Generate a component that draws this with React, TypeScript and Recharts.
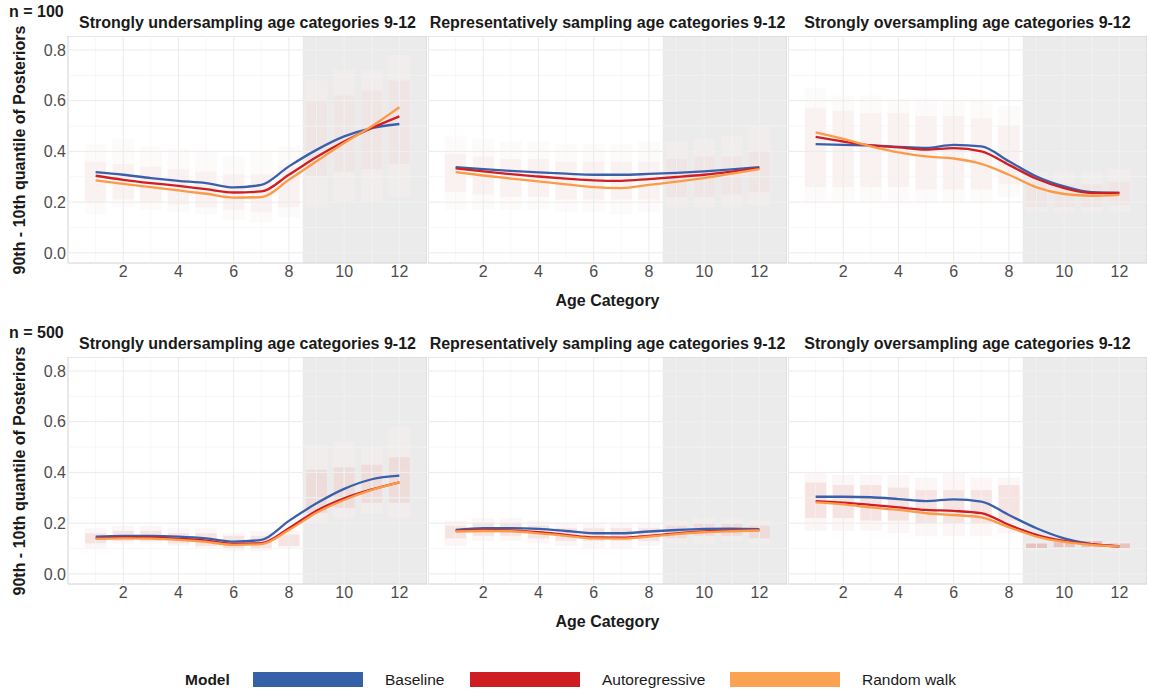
import React from 'react';
import { ComposedChart, Line, XAxis, YAxis, ReferenceArea, ReferenceLine } from 'recharts';

// ---------- categories / ticks ----------
const ageCategories = [1, 2, 3, 4, 5, 6, 7, 8, 9, 10, 11, 12];
const xTicks = [2, 4, 6, 8, 10, 12];
const xMinorGrid = [1, 3, 5, 7, 9, 11];
const yTicks = [0, 0.2, 0.4, 0.6, 0.8];
const yMinorGrid = [0.1, 0.3, 0.5, 0.7];
const modelNames = ['Baseline', 'Autoregressive', 'Random walk'];
const rowLabels = ['n = 100', 'n = 500'];
const panelTitles = [
  'Strongly undersampling age categories 9-12',
  'Representatively sampling age categories 9-12',
  'Strongly oversampling age categories 9-12',
];

// ---------- n = 100 smooth lines ----------
const n100UnderBaseline = [0.318, 0.308, 0.295, 0.284, 0.275, 0.258, 0.268, 0.341, 0.406, 0.459, 0.492, 0.508];
const n100UnderAutoreg = [0.304, 0.288, 0.275, 0.264, 0.251, 0.238, 0.242, 0.308, 0.378, 0.439, 0.492, 0.538];
const n100UnderRandomWalk = [0.286, 0.272, 0.259, 0.246, 0.233, 0.218, 0.220, 0.288, 0.361, 0.433, 0.499, 0.574];

const n100ReprBaseline = [0.338, 0.330, 0.323, 0.317, 0.312, 0.308, 0.308, 0.311, 0.315, 0.321, 0.329, 0.338];
const n100ReprAutoreg = [0.333, 0.321, 0.310, 0.301, 0.293, 0.286, 0.284, 0.291, 0.299, 0.308, 0.320, 0.334];
const n100ReprRandomWalk = [0.318, 0.305, 0.293, 0.282, 0.270, 0.259, 0.255, 0.268, 0.281, 0.295, 0.312, 0.330];

const n100OverBaseline = [0.429, 0.426, 0.424, 0.418, 0.414, 0.426, 0.420, 0.361, 0.301, 0.262, 0.239, 0.236];
const n100OverAutoreg = [0.457, 0.439, 0.424, 0.416, 0.407, 0.413, 0.400, 0.347, 0.292, 0.255, 0.236, 0.236];
const n100OverRandomWalk = [0.475, 0.449, 0.420, 0.396, 0.380, 0.372, 0.351, 0.308, 0.258, 0.232, 0.225, 0.229];

// ---------- n = 500 smooth lines ----------
const n500UnderBaseline = [0.147, 0.150, 0.150, 0.147, 0.140, 0.127, 0.134, 0.209, 0.278, 0.335, 0.373, 0.387];
const n500UnderAutoreg = [0.140, 0.144, 0.144, 0.138, 0.131, 0.118, 0.121, 0.180, 0.249, 0.298, 0.333, 0.361];
const n500UnderRandomWalk = [0.138, 0.140, 0.139, 0.134, 0.126, 0.114, 0.117, 0.173, 0.241, 0.291, 0.331, 0.361];

const n500ReprBaseline = [0.173, 0.180, 0.180, 0.177, 0.169, 0.160, 0.160, 0.167, 0.173, 0.177, 0.178, 0.176];
const n500ReprAutoreg = [0.169, 0.173, 0.171, 0.164, 0.154, 0.144, 0.143, 0.150, 0.160, 0.167, 0.171, 0.173];
const n500ReprRandomWalk = [0.167, 0.169, 0.168, 0.160, 0.150, 0.140, 0.139, 0.147, 0.157, 0.164, 0.168, 0.171];

const n500OverBaseline = [0.304, 0.304, 0.302, 0.295, 0.287, 0.294, 0.285, 0.232, 0.180, 0.140, 0.117, 0.108];
const n500OverAutoreg = [0.287, 0.281, 0.272, 0.262, 0.252, 0.248, 0.239, 0.193, 0.154, 0.130, 0.117, 0.108];
const n500OverRandomWalk = [0.282, 0.274, 0.262, 0.252, 0.239, 0.232, 0.223, 0.184, 0.147, 0.126, 0.114, 0.108];

// ---------- point-cloud spread per age category: [low, high] ----------
const n100UnderOuter = [[0.15, 0.43], [0.18, 0.45], [0.17, 0.42], [0.16, 0.41], [0.15, 0.40], [0.13, 0.38], [0.12, 0.40], [0.14, 0.42], [0.18, 0.68], [0.20, 0.72], [0.20, 0.72], [0.22, 0.78]];
const n100UnderInner = [[0.20, 0.36], [0.21, 0.35], [0.20, 0.34], [0.19, 0.33], [0.18, 0.32], [0.17, 0.31], [0.16, 0.31], [0.18, 0.34], [0.30, 0.60], [0.32, 0.62], [0.33, 0.64], [0.35, 0.68]];
const n100ReprOuter = [[0.17, 0.46], [0.17, 0.45], [0.17, 0.44], [0.17, 0.44], [0.16, 0.43], [0.16, 0.43], [0.15, 0.43], [0.16, 0.44], [0.18, 0.44], [0.18, 0.45], [0.18, 0.46], [0.19, 0.50]];
const n100ReprInner = [[0.24, 0.39], [0.23, 0.38], [0.22, 0.37], [0.22, 0.37], [0.21, 0.36], [0.21, 0.36], [0.21, 0.36], [0.21, 0.36], [0.22, 0.37], [0.22, 0.38], [0.23, 0.38], [0.24, 0.40]];
const n100OverOuter = [[0.20, 0.65], [0.20, 0.62], [0.20, 0.62], [0.20, 0.61], [0.20, 0.61], [0.20, 0.60], [0.20, 0.60], [0.22, 0.58], [0.16, 0.32], [0.16, 0.32], [0.16, 0.32], [0.16, 0.33]];
const n100OverInner = [[0.26, 0.57], [0.26, 0.56], [0.26, 0.55], [0.26, 0.55], [0.25, 0.54], [0.25, 0.54], [0.25, 0.53], [0.27, 0.50], [0.18, 0.28], [0.18, 0.27], [0.18, 0.27], [0.19, 0.28]];

const n500UnderOuter = [[0.10, 0.18], [0.12, 0.19], [0.12, 0.19], [0.11, 0.18], [0.10, 0.18], [0.09, 0.16], [0.09, 0.17], [0.10, 0.17], [0.20, 0.51], [0.22, 0.52], [0.24, 0.50], [0.22, 0.58]];
const n500UnderInner = [[0.12, 0.16], [0.13, 0.17], [0.13, 0.17], [0.12, 0.16], [0.11, 0.16], [0.10, 0.15], [0.10, 0.15], [0.11, 0.155], [0.24, 0.41], [0.26, 0.42], [0.28, 0.43], [0.28, 0.46]];
const n500ReprOuter = [[0.11, 0.21], [0.13, 0.22], [0.13, 0.22], [0.12, 0.21], [0.11, 0.20], [0.10, 0.20], [0.10, 0.20], [0.11, 0.20], [0.12, 0.21], [0.12, 0.22], [0.13, 0.22], [0.12, 0.21]];
const n500ReprInner = [[0.14, 0.19], [0.15, 0.20], [0.15, 0.20], [0.14, 0.19], [0.13, 0.18], [0.13, 0.18], [0.13, 0.18], [0.13, 0.18], [0.14, 0.19], [0.15, 0.20], [0.15, 0.20], [0.14, 0.19]];
const n500OverOuter = [[0.17, 0.40], [0.17, 0.39], [0.17, 0.39], [0.16, 0.39], [0.15, 0.38], [0.15, 0.40], [0.15, 0.38], [0.16, 0.38], [0.09, 0.13], [0.10, 0.13], [0.10, 0.14], [0.09, 0.13]];
const n500OverInner = [[0.22, 0.36], [0.22, 0.35], [0.21, 0.35], [0.21, 0.34], [0.20, 0.33], [0.20, 0.33], [0.20, 0.33], [0.21, 0.35], [0.10, 0.12], [0.105, 0.125], [0.105, 0.13], [0.10, 0.12]];

// ---------- styling ----------
const COLORS = ['#3a60ab', '#d01f24', '#fb9b48'];
const LEGEND_COLORS = ['#3561a9', '#cd1c22', '#fba352'];
const FONT = '"Liberation Sans", Arial, Helvetica, sans-serif';
const Y_DOMAIN: [number, number] = [-0.04, 0.855];
const X_DOMAIN: [number, number] = [0, 13];
const PLOT_LEFT = [68, 428, 788];
const PLOT_TOP = [36, 357];
const PW = 359;
const PH = 227;
const XH = 30;
const YW = 68;

type PanelSpec = {
  row: number;
  col: number;
  lines: number[][];
  outer: number[][];
  inner: number[][];
};

const panels: PanelSpec[] = [
  { row: 0, col: 0, lines: [n100UnderBaseline, n100UnderAutoreg, n100UnderRandomWalk], outer: n100UnderOuter, inner: n100UnderInner },
  { row: 0, col: 1, lines: [n100ReprBaseline, n100ReprAutoreg, n100ReprRandomWalk], outer: n100ReprOuter, inner: n100ReprInner },
  { row: 0, col: 2, lines: [n100OverBaseline, n100OverAutoreg, n100OverRandomWalk], outer: n100OverOuter, inner: n100OverInner },
  { row: 1, col: 0, lines: [n500UnderBaseline, n500UnderAutoreg, n500UnderRandomWalk], outer: n500UnderOuter, inner: n500UnderInner },
  { row: 1, col: 1, lines: [n500ReprBaseline, n500ReprAutoreg, n500ReprRandomWalk], outer: n500ReprOuter, inner: n500ReprInner },
  { row: 1, col: 2, lines: [n500OverBaseline, n500OverAutoreg, n500OverRandomWalk], outer: n500OverOuter, inner: n500OverInner },
];

const seriesKeys = ['baseline', 'autoregressive', 'randomWalk'];

function Panel({ spec }: { spec: PanelSpec }) {
  const { row, col, lines, outer, inner } = spec;
  const data = ageCategories.map((x, i) => ({
    x,
    baseline: lines[0][i],
    autoregressive: lines[1][i],
    randomWalk: lines[2][i],
  }));
  const yw = col === 0 ? YW : 0;
  const innerOpacity = row === 0 ? 0.06 : 0.13;
  const outerOpacity = row === 0 ? 0.035 : 0.06;
  return (
    <div style={{ position: 'absolute', left: PLOT_LEFT[col] - yw, top: PLOT_TOP[row] }}>
      <ComposedChart width={PW + yw} height={PH + XH} data={data} margin={{ top: 0, right: 0, bottom: 0, left: 0 }}>
        <XAxis
          type="number"
          dataKey="x"
          domain={X_DOMAIN}
          ticks={xTicks}
          interval={0}
          allowDataOverflow
          axisLine={false}
          tickLine={false}
          tickSize={0}
          tickMargin={3}
          height={XH}
          tick={{ fill: '#4d4d4d', fontSize: 16, fontFamily: FONT }}
        />
        <YAxis
          type="number"
          domain={Y_DOMAIN}
          ticks={yTicks}
          interval={0}
          allowDataOverflow
          hide={col !== 0}
          width={yw}
          axisLine={false}
          tickLine={false}
          tickSize={0}
          tickMargin={2}
          tickFormatter={(v: number) => v.toFixed(1)}
          tick={{ fill: '#4d4d4d', fontSize: 16, fontFamily: FONT }}
        />
        {xMinorGrid.map((v) => (
          <ReferenceLine key={'xm' + v} x={v} stroke="#f3f3f3" strokeWidth={0.7} />
        ))}
        {yMinorGrid.map((v) => (
          <ReferenceLine key={'ym' + v} y={v} stroke="#f3f3f3" strokeWidth={0.7} />
        ))}
        {xTicks.map((v) => (
          <ReferenceLine key={'xM' + v} x={v} stroke="#ebebeb" strokeWidth={1} />
        ))}
        {yTicks.map((v) => (
          <ReferenceLine key={'yM' + v} y={v} stroke="#ebebeb" strokeWidth={1} />
        ))}
        <ReferenceArea x1={8.5} x2={13} y1={Y_DOMAIN[0]} y2={Y_DOMAIN[1]} fill="#ebebeb" fillOpacity={1} stroke="none" />
        {[9, 10, 11, 12].map((v) => (
          <ReferenceLine key={'xg' + v} x={v} stroke="#f1f1f1" strokeWidth={v % 2 === 0 ? 1 : 0.7} />
        ))}
        {[...yTicks, ...yMinorGrid].map((v) => (
          <ReferenceLine
            key={'yg' + v}
            segment={[{ x: 8.5, y: v }, { x: 13, y: v }]}
            stroke="#f1f1f1"
            strokeWidth={0.8}
          />
        ))}
        {outer.map(([lo, hi], i) => (
          <ReferenceArea
            key={'o' + i}
            x1={ageCategories[i] - 0.4}
            x2={ageCategories[i] + 0.4}
            y1={lo}
            y2={hi}
            fill={ageCategories[i] > 8.5 ? '#f6eeee' : '#c86a6a'}
            fillOpacity={ageCategories[i] > 8.5 ? 0.6 : outerOpacity}
            stroke="none"
          />
        ))}
        {inner.map(([lo, hi], i) => (
          <ReferenceArea
            key={'i' + i}
            x1={ageCategories[i] - 0.38}
            x2={ageCategories[i] + 0.38}
            y1={lo}
            y2={hi}
            fill="#d06a60"
            fillOpacity={hi - lo < 0.035 ? 0.32 : innerOpacity}
            stroke="none"
          />
        ))}
        {seriesKeys.map((k, i) => (
          <Line
            key={k}
            dataKey={k}
            name={modelNames[i]}
            type="monotone"
            stroke={COLORS[i]}
            strokeWidth={2.3}
            dot={false}
            activeDot={false}
            isAnimationActive={false}
          />
        ))}
        <ReferenceArea
          x1={X_DOMAIN[0]}
          x2={X_DOMAIN[1]}
          y1={Y_DOMAIN[0]}
          y2={Y_DOMAIN[1]}
          fill="none"
          stroke="#d2d2d2"
          strokeWidth={1}
        />
      </ComposedChart>
    </div>
  );
}

const textBold: React.CSSProperties = { position: 'absolute', fontFamily: FONT, fontWeight: 700, color: '#1a1a1a', whiteSpace: 'nowrap' };

export default function App() {
  return (
    <div style={{ position: 'absolute', left: 0, top: 0, width: 1149, height: 693, background: '#fff', overflow: 'hidden' }}>
      {panels.map((p) => (
        <Panel key={p.row + '-' + p.col} spec={p} />
      ))}
      {rowLabels.map((lab, r) => (
        <div key={lab} style={{ ...textBold, left: 9, top: PLOT_TOP[r] - 34, fontSize: 16, lineHeight: '20px' }}>{lab}</div>
      ))}
      {[0, 1].map((r) =>
        panelTitles.map((t, c) => (
          <div
            key={r + t}
            style={{ ...textBold, left: PLOT_LEFT[c], width: PW, textAlign: 'center', top: PLOT_TOP[r] - 23, fontSize: 16, lineHeight: '20px' }}
          >
            {t}
          </div>
        ))
      )}
      {[0, 1].map((r) => (
        <div
          key={'yl' + r}
          style={{
            ...textBold,
            left: 20,
            top: PLOT_TOP[r] + 114,
            fontSize: 16,
            lineHeight: '20px',
            transform: 'translate(-50%, -50%) rotate(-90deg)',
          }}
        >
          90th - 10th quantile of Posteriors
        </div>
      ))}
      {[0, 1].map((r) => (
        <div
          key={'xl' + r}
          style={{ ...textBold, left: PLOT_LEFT[1], width: PW, textAlign: 'center', top: PLOT_TOP[r] + PH + 28, fontSize: 16, lineHeight: '20px' }}
        >
          Age Category
        </div>
      ))}
      <div style={{ ...textBold, left: 185, top: 670, fontSize: 15.5, lineHeight: '20px' }}>Model</div>
      {modelNames.map((m, i) => {
        const keyLeft = [253, 470, 730][i];
        return (
          <React.Fragment key={m}>
            <div style={{ position: 'absolute', left: keyLeft, top: 672, width: 110, height: 15, background: LEGEND_COLORS[i] }} />
            <div
              style={{ position: 'absolute', left: keyLeft + 132, top: 670, fontFamily: FONT, fontSize: 15.5, lineHeight: '20px', color: '#1a1a1a', whiteSpace: 'nowrap' }}
            >
              {m}
            </div>
          </React.Fragment>
        );
      })}
    </div>
  );
}
